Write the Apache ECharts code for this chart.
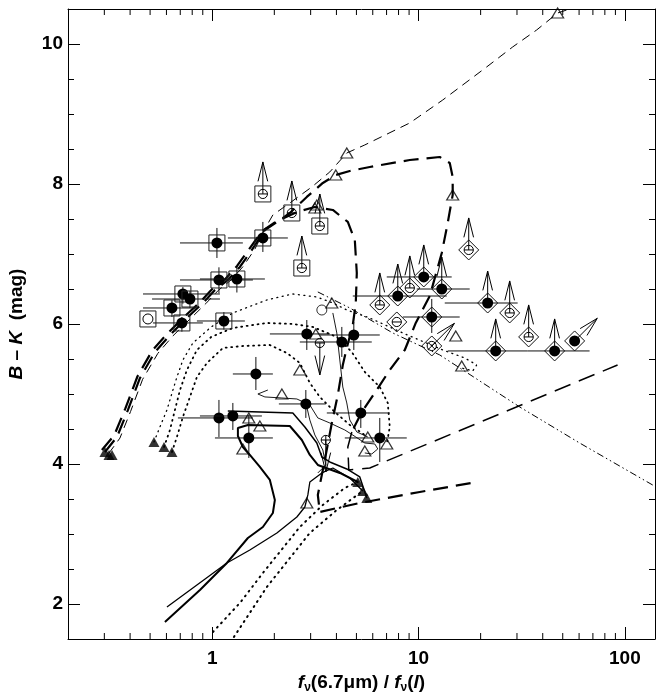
<!DOCTYPE html>
<html><head><meta charset="utf-8">
<script src="https://cdn.jsdelivr.net/npm/echarts@6/dist/echarts.min.js"></script>
<style>html,body{margin:0;padding:0;background:#fff}#c{width:657px;height:692px}</style>
</head><body><div id="c"></div>
<script>
// ---------------- data (x = f(6.7um)/f(I), y = B-K mag) ----------------
const xTickLabels = [1, 10, 100];
const minorTicksX = [0.3,0.4,0.5,0.6,0.7,0.8,0.9,2,3,4,5,6,7,8,9,20,30,40,50,60,70,80,90];

// boxed filled circles: [x, y, xlo, xhi, ylo, yhi]
const boxedDetections = [
  [1.054, 7.158, 0.698, 1.408, 6.943, 7.372],
  [1.760, 7.229, 1.191, 2.326, 7.029, 7.458],
  [1.078, 6.629, 0.698, 1.575, 6.440, 6.810],
  [1.317, 6.643, 0.872, 1.800, 6.450, 6.820],
  [0.721, 6.429, 0.462, 1.090, 6.290, 6.530],
  [0.780, 6.357, 0.511, 1.090, 6.230, 6.470],
  [0.638, 6.229, 0.462, 0.843, 6.100, 6.340],
  [0.713, 6.015, 0.516, 0.901, 5.890, 6.100],
  [1.139, 6.043, 0.843, 1.440, 5.920, 6.170]
];
const boxedOpen = [[0.488, 6.072]];
// boxed lower limits: [x, y]
const boxedLowerLimits = [[1.760, 7.858], [2.432, 7.586], [3.323, 7.400], [2.719, 6.800]];

// unboxed filled circles: [x, y, xlo, xhi, ylo, yhi]
const detections = [
  [2.874, 5.858, 1.903, 3.715, 5.629, 6.057],
  [4.248, 5.743, 2.659, 5.934, 5.529, 5.958],
  [4.857, 5.843, 3.323, 6.489, 5.629, 6.029],
  [1.628, 5.286, 1.259, 1.968, 5.057, 5.529],
  [2.843, 4.858, 2.104, 3.553, 4.658, 5.057],
  [1.078, 4.658, 0.682, 1.575, 4.386, 4.915],
  [1.259, 4.686, 0.872, 1.741, 4.486, 4.872],
  [1.505, 4.372, 1.031, 1.968, 4.086, 4.700],
  [5.251, 4.729, 3.593, 7.254, 4.515, 4.915],
  [6.489, 4.372, 4.392, 8.768, 4.029, 4.658]
];
// diamonds with filled circles: [x, y, xlo, xhi, ylo, yhi, limit] limit: 0 none, 1 up, 2 up-right
const diamondDetections = [
  [7.932, 6.400, 4.802, 13.70, 6.400, 6.400, 1],
  [10.60, 6.672, 7.015, 14.48, 6.672, 6.672, 1],
  [12.96, 6.500, 9.802, 17.70, 6.500, 6.500, 1],
  [11.59, 6.100, 8.386, 15.83, 5.872, 6.358, 0],
  [21.63, 6.300, 13.40, 30.23, 6.300, 6.300, 1],
  [23.66, 5.615, 13.85, 33.80, 5.615, 5.615, 1],
  [45.67, 5.615, 33.80, 67.47, 5.615, 5.615, 1],
  [57.10, 5.758, 57.10, 57.10, 5.758, 5.758, 2]
];
// diamonds with open circles: [x, y, limit, inner] inner: 0 bar, 1 cross
const diamondLimits = [
  [6.489, 6.272, 1, 0],
  [9.070, 6.515, 1, 0],
  [17.51, 7.058, 1, 0],
  [7.844, 6.029, 0, 0],
  [27.66, 6.158, 1, 0],
  [34.18, 5.815, 1, 0],
  [11.59, 5.686, 2, 1]
];
// upper limits (open circle, arrow down): [x, y, inner] inner: 0 bar, 1 plus
const upperLimits = [[3.323, 5.729, 0], [3.553, 4.343, 1]];
const openCircles = [[3.399, 6.200]];

const openTriangles = [
  [4.49, 8.443], [47.23, 10.443], [3.972, 8.129], [14.64, 7.843], [3.214, 7.700], [3.144, 7.657],
  [3.80, 6.300], [3.178, 5.858], [2.659, 5.343], [2.176, 5.000], [1.505, 4.658], [1.702, 4.543],
  [1.408, 4.215], [2.874, 3.443], [5.676, 4.386], [7.015, 4.286], [5.49, 4.186], [15.15, 5.829], [16.19, 5.400]
];
const filledTriangles = [
  [0.302, 4.172], [0.316, 4.129], [0.327, 4.129], [0.522, 4.315], [0.584, 4.243], [0.638, 4.172],
  [5.077, 3.743], [5.368, 3.615], [5.614, 3.515]
];

// model tracks
const trackThin = [[0.315,4.15],[0.357,4.37],[0.402,4.75],[0.46,5.21],[0.545,5.58],[0.645,5.83],[0.78,6.07],[0.93,6.29],[1.07,6.48],[1.235,6.63],[1.41,6.82],[1.61,7.07],[1.80,7.36],[1.968,7.558],[2.378,7.729],[3.04,7.958],[3.715,8.172],[4.49,8.443],[5.49,8.558],[9.07,8.872],[13.10,9.20],[21.39,9.672],[28.6,9.958],[37.36,10.20],[47.23,10.443],[54.0,10.5]];
const trackLoop = [[0.302,4.172],[0.3455,4.386],[0.3906,4.772],[0.4466,5.229],[0.528,5.60],[0.624,5.843],[0.754,6.086],[0.901,6.30],[1.031,6.486],[1.191,6.629],[1.362,6.815],[1.557,7.058],[1.80,7.343],[2.128,7.486],[2.378,7.586],[2.874,7.815],[3.437,8.015],[3.972,8.129],[4.644,8.186],[5.802,8.243],[9.07,8.343],[12.67,8.386],[14.17,8.30],[14.64,8.10],[14.64,7.843],[13.85,7.443],[12.96,7.015],[11.34,6.40],[9.694,6.015],[8.578,5.629],[7.254,5.343],[6.137,5.015],[5.309,4.743],[4.749,4.458]];
const trackLoopTail = [[4.749,4.458],[4.542,4.243],[4.592,3.915],[5.802,3.943],[11.34,4.30],[24.74,4.715],[48.3,5.072],[92.2,5.415]];
const trackCurve = [[0.292,4.20],[0.335,4.41],[0.379,4.79],[0.434,5.25],[0.512,5.62],[0.605,5.86],[0.73,6.10],[0.872,6.31],[1.00,6.50],[1.155,6.64],[1.32,6.83],[1.51,7.07],[1.75,7.33],[2.06,7.47],[2.572,7.60],[3.144,7.672],[3.843,7.629],[4.542,7.458],[4.911,7.20],[5.021,6.729],[4.965,6.30],[4.802,5.986],[4.49,5.658],[4.295,5.415],[4.062,4.986],[3.80,4.586],[3.514,4.058],[3.25,3.558],[3.323,3.315],[5.191,3.443],[10.14,3.60],[19.13,3.743]];
const trackDashDot = [[3.25,6.458],[4.644,6.229],[7.502,5.872],[12.67,5.558],[30.92,4.815],[60.37,4.30],[139,3.686]];
const dotted1 = [[0.522,4.315],[0.558,4.529],[0.6034,4.772],[0.645,5.057],[0.6745,5.243],[0.721,5.486],[0.806,5.729],[0.989,5.958],[1.259,6.158],[1.840,6.343],[2.459,6.429],[3.214,6.386],[3.843,6.30],[4.49,6.20],[5.802,6.086],[8.386,5.872],[13.10,5.629],[16.74,5.515],[19.13,5.415],[18.31,5.329],[16.19,5.372]];
const dotted2 = [[0.584,4.243],[0.624,4.486],[0.6597,4.772],[0.698,5.057],[0.754,5.343],[0.843,5.629],[0.989,5.815],[1.259,5.943],[1.840,6.015],[2.459,6.00],[3.074,5.958],[4.017,5.815],[4.749,5.60],[5.49,5.315],[6.489,5.10],[7.094,4.872],[7.254,4.529],[7.015,4.286]];
const dotted3 = [[0.638,4.172],[0.6745,4.386],[0.721,4.672],[0.780,4.958],[0.843,5.243],[0.943,5.443],[1.127,5.658],[1.408,5.686],[1.903,5.70],[2.30,5.586],[2.659,5.443],[2.973,5.158],[3.323,4.958],[3.929,4.743],[4.644,4.558],[5.49,4.415]];
const dottedLow1 = [[1.008,1.60],[1.362,2.015],[1.760,2.443],[2.659,3.10],[3.437,3.415],[4.392,3.658],[5.077,3.743]];
const dottedLow2 = [[1.274,1.529],[1.840,2.243],[2.973,3.015],[4.017,3.343],[5.368,3.615]];
const solidThick = [[0.590,1.743],[0.872,2.20],[1.178,2.586],[1.489,2.943],[1.760,3.10],[1.968,3.30],[2.012,3.486],[1.903,3.772],[1.702,3.958],[1.522,4.129],[1.408,4.243],[1.332,4.40],[1.332,4.515],[1.489,4.558],[2.378,4.543],[2.719,4.343],[2.973,4.129],[3.25,3.986],[4.154,3.872],[5.077,3.743]];
const solidMid = [[0.6034,1.958],[1.178,2.586],[1.522,2.772],[2.058,3.015],[2.572,3.243],[2.812,3.386],[2.908,3.558],[2.973,3.743],[3.399,3.872],[3.843,3.943],[4.644,3.80],[5.368,3.615]];
const solidUpper = [[1.19,4.757],[2.459,4.729],[2.812,4.529],[3.214,4.30],[3.399,4.10],[3.715,4.029],[4.49,3.929],[5.191,3.815],[5.614,3.515]];
const solidWiggle = [[1.861,5.057],[1.665,5.0],[1.80,4.958],[2.176,4.943],[2.572,4.929],[2.973,4.843],[3.25,4.658],[3.715,4.586],[4.392,4.486],[4.965,4.386],[5.49,4.30],[6.137,4.286],[6.345,4.215],[5.934,4.143],[5.49,4.158]];
const solidThin1 = [[3.843,6.158],[4.017,5.872],[4.154,5.486],[4.295,5.10],[4.49,4.872],[4.644,4.629],[5.021,4.458],[5.676,4.386]];
const solidThin2 = [[2.874,4.815],[2.973,4.629],[3.144,4.415],[3.437,4.20],[3.553,3.986],[3.25,3.872]];

// ---------------- rendering helpers ----------------
const F = '"Liberation Sans", Arial, Helvetica, sans-serif';
const BLK = '#000';
function seg(a, b, w, c) {
  return {type:'line', shape:{x1:a[0], y1:a[1], x2:b[0], y2:b[1]}, style:{stroke:c||BLK, lineWidth:w||1}};
}
function chevron(t, dx, dy) {
  const L = 20, ang = 0.245, co = Math.cos(ang), si = Math.sin(ang);
  const a = [t[0] + L*(dx*co - dy*si), t[1] + L*(dx*si + dy*co)];
  const b = [t[0] + L*(dx*co + dy*si), t[1] + L*(-dx*si + dy*co)];
  return {type:'polyline', shape:{points:[a, t, b]}, style:{stroke:BLK, fill:'none', lineWidth:1}};
}
function arrow(c, kind) {
  let d;
  if (kind === 1) d = [0, -1]; else if (kind === 2) d = [0.7071, -0.7071]; else d = [0, 1];
  const len = 32;
  const t = [c[0] + d[0]*len, c[1] + d[1]*len];
  return [seg(c, t), chevron(t, -d[0], -d[1])];
}
function errBars(api, x, y, xlo, xhi, ylo, yhi) {
  const out = [];
  if (xlo !== xhi) out.push(seg(api.coord([xlo, y]), api.coord([xhi, y]), 1, '#111'));
  if (ylo !== yhi) out.push(seg(api.coord([x, ylo]), api.coord([x, yhi]), 1, '#111'));
  return out;
}
function box(c) { return {type:'rect', shape:{x:c[0]-8, y:c[1]-8, width:16, height:16}, style:{fill:'none', stroke:'#222', lineWidth:1}}; }
function diamond(c) { return {type:'polygon', shape:{points:[[c[0],c[1]-10],[c[0]+10,c[1]],[c[0],c[1]+10],[c[0]-10,c[1]]]}, style:{fill:'none', stroke:'#111', lineWidth:1}}; }
function dot(c) { return {type:'circle', shape:{cx:c[0], cy:c[1], r:5.5}, style:{fill:BLK}}; }
function ring(c, inner) {
  const r = 4.6, out = [{type:'circle', shape:{cx:c[0], cy:c[1], r:r}, style:{fill:'none', stroke:BLK, lineWidth:1}}];
  if (inner === 1) { out.push(seg([c[0]-r, c[1]], [c[0]+r, c[1]])); out.push(seg([c[0], c[1]-r], [c[0], c[1]+r])); }
  else if (inner === 2) { const q = r*0.7071; out.push(seg([c[0]-q, c[1]-q], [c[0]+q, c[1]+q])); out.push(seg([c[0]-q, c[1]+q], [c[0]+q, c[1]-q])); }
  else out.push(seg([c[0]-r, c[1]], [c[0]+r, c[1]]));
  return out;
}

function custom(name, data, renderItem, z) {
  return {type:'custom', name:name, data:data, renderItem:renderItem, clip:false, silent:true, z:z||5, xAxisIndex:0, yAxisIndex:0};
}
function line(name, data, width, type, z, cap) {
  return {type:'line', name:name, data:data, showSymbol:false, symbol:'none', silent:true, z:z||2, clip:true,
    lineStyle:{color:BLK, width:width, type:type, cap:cap||'butt'}};
}

const series = [
  line('thin dashed', trackThin, 1, [9, 6]),
  line('loop', trackLoop, 2.2, [15, 8]),
  line('loop tail', trackLoopTail, 1.5, [17, 9]),
  line('curve', trackCurve, 2.2, [15, 8]),
  line('dash dot', trackDashDot, 1, [7, 3, 1.5, 3, 1.5, 3]),
  line('dotted 1', dotted1, 1.3, [1, 4.5], 2, 'round'),
  line('dotted 2', dotted2, 1.8, [1, 4.5], 2, 'round'),
  line('dotted 3', dotted3, 1.8, [1, 4.5], 2, 'round'),
  line('dotted low 1', dottedLow1, 2, [1, 5], 2, 'round'),
  line('dotted low 2', dottedLow2, 2, [1, 5], 2, 'round'),
  line('solid thick', solidThick, 2, 'solid'),
  line('solid mid', solidMid, 1.3, 'solid'),
  line('solid upper', solidUpper, 1.5, 'solid'),
  line('wiggle', solidWiggle, 0.9, 'solid'),
  line('thin 1', solidThin1, 0.9, 'solid'),
  line('thin 2', solidThin2, 0.9, 'solid'),
  custom('minor x ticks', minorTicksX.map(v => [v, 1.5]), function (p, api) {
    const v = api.value(0);
    const b = api.coord([v, 1.5]), t = api.coord([v, 10.5]);
    return {type:'group', children:[seg(b, [b[0], b[1]-6]), seg(t, [t[0], t[1]+6])]};
  }, 1),
  custom('boxed detections', boxedDetections, function (p, api) {
    const x = api.value(0), y = api.value(1), c = api.coord([x, y]);
    const ch = errBars(api, x, y, api.value(2), api.value(3), api.value(4), api.value(5));
    ch.push(box(c)); ch.push(dot(c));
    return {type:'group', children:ch};
  }),
  custom('boxed open', boxedOpen, function (p, api) {
    const c = api.coord([api.value(0), api.value(1)]);
    return {type:'group', children:[box(c), {type:'circle', shape:{cx:c[0], cy:c[1], r:5}, style:{fill:'none', stroke:BLK, lineWidth:1}}]};
  }),
  custom('boxed lower limits', boxedLowerLimits, function (p, api) {
    const c = api.coord([api.value(0), api.value(1)]);
    return {type:'group', children:[].concat(arrow(c, 1), [box(c)], ring(c, 0))};
  }),
  custom('detections', detections, function (p, api) {
    const x = api.value(0), y = api.value(1), c = api.coord([x, y]);
    const ch = errBars(api, x, y, api.value(2), api.value(3), api.value(4), api.value(5));
    ch.push(dot(c));
    return {type:'group', children:ch};
  }),
  custom('diamond detections', diamondDetections, function (p, api) {
    const x = api.value(0), y = api.value(1), c = api.coord([x, y]);
    let ch = errBars(api, x, y, api.value(2), api.value(3), api.value(4), api.value(5));
    const lim = api.value(6);
    if (lim) ch = ch.concat(arrow(c, lim));
    ch.push(diamond(c)); ch.push(dot(c));
    return {type:'group', children:ch};
  }),
  custom('diamond limits', diamondLimits, function (p, api) {
    const c = api.coord([api.value(0), api.value(1)]);
    let ch = [];
    const lim = api.value(2);
    if (lim) ch = ch.concat(arrow(c, lim));
    ch.push(diamond(c));
    ch = ch.concat(ring(c, api.value(3) === 1 ? 2 : 0));
    return {type:'group', children:ch};
  }),
  custom('upper limits', upperLimits, function (p, api) {
    const c = api.coord([api.value(0), api.value(1)]);
    return {type:'group', children:[].concat(arrow(c, -1), ring(c, api.value(2)))};
  }),
  {type:'scatter', name:'open circles', data:openCircles, symbol:'circle', symbolSize:10, silent:true, z:5,
    itemStyle:{color:'rgba(255,255,255,0)', borderColor:BLK, borderWidth:1}},
  {type:'scatter', name:'open triangles', data:openTriangles, symbol:'triangle', symbolSize:[12, 10], silent:true, z:5,
    itemStyle:{color:'rgba(255,255,255,0)', borderColor:BLK, borderWidth:1.2}},
  {type:'scatter', name:'filled triangles', data:filledTriangles, symbol:'triangle', symbolSize:[11, 10], silent:true, z:5,
    itemStyle:{color:BLK}}
];

const axisCommon = {
  axisLine:{show:true, onZero:false, lineStyle:{color:BLK, width:1}},
  axisTick:{show:true, inside:true, length:12, lineStyle:{color:BLK, width:1}},
  splitLine:{show:false}
};
const labelStyle = {color:BLK, fontSize:19, fontWeight:'bold', fontFamily:F, showMinLabel:false, showMaxLabel:false};

const option = {
  animation:false,
  backgroundColor:'#fff',
  grid:{left:68, right:2, top:9, bottom:53, containLabel:false, outerBoundsMode:'none'},
  xAxis:[
    Object.assign({type:'log', logBase:10, min:0.2, max:140, position:'bottom',
      axisLabel:Object.assign({margin:10, formatter: v => (xTickLabels.indexOf(Math.round(v)) >= 0 ? String(Math.round(v)) : '')}, labelStyle),
      name:'{i|f}{s|ν}{b|(6.7μm) / }{i|f}{s|ν}{b|(}{i|l}{b|)}', nameLocation:'middle', nameGap:28,
      nameTextStyle:{fontFamily:F, fontSize:19, fontWeight:'bold', color:BLK,
        rich:{
          b:{fontFamily:F, fontSize:19, fontWeight:'bold', color:BLK, lineHeight:22},
          i:{fontFamily:F, fontSize:19, fontWeight:'bold', fontStyle:'italic', color:BLK, lineHeight:22},
          s:{fontFamily:F, fontSize:12, fontWeight:'bold', color:BLK, lineHeight:22, verticalAlign:'bottom', padding:[8,0,0,0]}
        }}
    }, axisCommon),
    Object.assign({type:'log', logBase:10, min:0.2, max:140, position:'top', axisLabel:{show:false}}, axisCommon)
  ],
  yAxis:[
    Object.assign({type:'value', min:1.5, max:10.5, position:'left',
      minorTick:{show:true, splitNumber:4, length:6, lineStyle:{color:BLK, width:1}},
      axisLabel:Object.assign({margin:5}, labelStyle),
      name:'{i|B}{b| – }{i|K}{b|  (mag)}', nameLocation:'middle', nameGap:42, nameRotate:90,
      nameTextStyle:{fontFamily:F, fontSize:19, fontWeight:'bold', color:BLK,
        rich:{
          b:{fontFamily:F, fontSize:19, fontWeight:'bold', color:BLK},
          i:{fontFamily:F, fontSize:19, fontWeight:'bold', fontStyle:'italic', color:BLK}
        }}
    }, axisCommon),
    Object.assign({type:'value', min:1.5, max:10.5, position:'right',
      minorTick:{show:true, splitNumber:4, length:6, lineStyle:{color:BLK, width:1}},
      axisLabel:{show:false}}, axisCommon)
  ],
  series: series
};

const chart = echarts.init(document.getElementById('c'), null, {renderer:'canvas'});
chart.setOption(option);
</script></body></html>
